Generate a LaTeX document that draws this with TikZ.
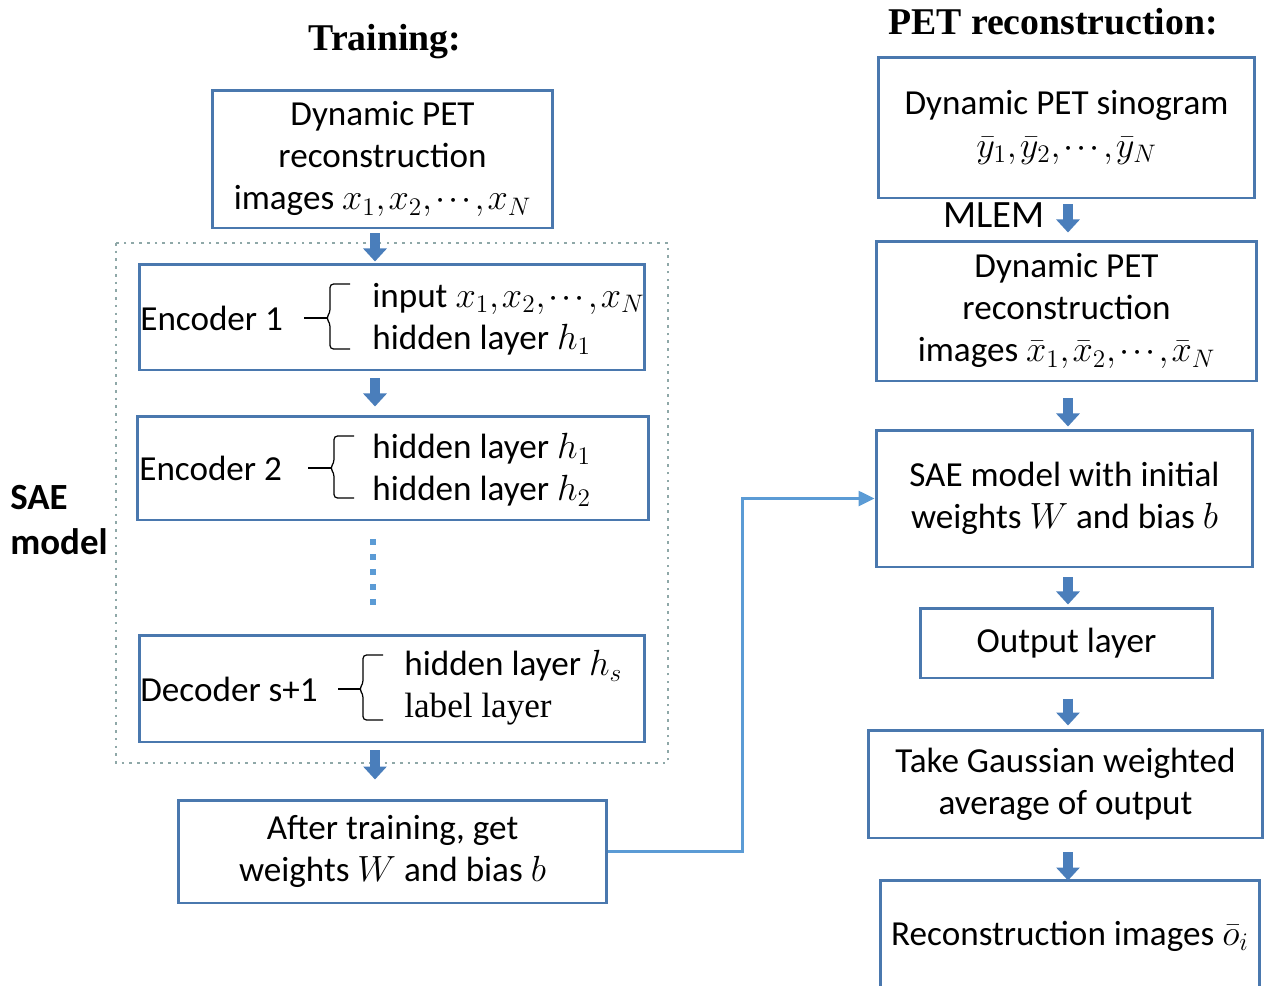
\documentclass[tikz,border=0pt]{standalone}
\usepackage{fontspec}
\setmainfont{Carlito}
\newfontfamily\titlefont{Liberation Serif}
\newfontfamily\labelfont{Liberation Serif}
\usetikzlibrary{arrows.meta,calc}
\definecolor{boxblue}{HTML}{4A78AE}
\definecolor{arrowblue}{HTML}{4A7EBB}
\definecolor{linkblue}{HTML}{5B9BD5}
\definecolor{framegray}{HTML}{8FA8A8}
\thinmuskip=1.5mu

\begin{document}
\begin{tikzpicture}[x=0.02cm,y=-0.02cm,
  box/.style={draw=boxblue,line width=1.7pt,align=center,inner sep=0pt,font=\fontsize{20}{24}\selectfont},
  txt/.style={inner sep=0pt,align=left,font=\fontsize{20}{24}\selectfont},
  fatarrow/.style={arrowblue,line width=0.2cm,-{Triangle[width=0.46cm,length=0.26cm]}},
  link/.style={linkblue,line width=1.4pt,-{Triangle[width=0.3cm,length=0.32cm]}},
  saeframe/.style={framegray,line width=1.4pt,dash pattern=on 1.5pt off 2.9pt},
  layerbrace/.style={black,line width=0.7pt,rounded corners=0.07cm},
  title/.style={inner sep=0pt,font=\titlefont\bfseries\fontsize{21.5}{26}\selectfont}]
\useasboundingbox (0,0) rectangle (1265,985);
\clip (0,0) rectangle (1265,985);

% training side
\node[title] (traintitle) at (385,42) {Training:};
\node[box,minimum width=6.82cm,minimum height=2.76cm] (petimg) at (382.5,159)
  {Dynamic PET\\reconstruction\\images $x_1,x_2,\cdots,x_N$};

\draw[saeframe] (116,243) rectangle (668,763);
\node[txt,font=\bfseries\fontsize{21}{26}\selectfont] (saelabel) at (10,520) [anchor=west] {SAE\\model};

\node[box,minimum width=10.12cm,minimum height=2.12cm] (enc1) at (392,317) {};
\node[txt,anchor=west] (enc1name) at (140,318) {Encoder 1};
\node[txt,anchor=west] (enc1layers) at (372,319) {input $x_1,x_2,\cdots,x_N$\\hidden layer $h_1$};
\draw[layerbrace] (304,318) -- (327,318);
\draw[layerbrace] (350,284) -- (330,284) -- (330,313) -- (326,318) -- (330,323) -- (330,349) -- (350,349);

\node[box,minimum width=10.24cm,minimum height=2.08cm] (enc2) at (393,468) {};
\node[txt,anchor=west] (enc2name) at (139,468) {Encoder 2};
\node[txt,anchor=west] (enc2layers) at (372,470) {hidden layer $h_1$\\hidden layer $h_2$};
\draw[layerbrace] (308,468) -- (331,468);
\draw[layerbrace] (354,436) -- (334,436) -- (334,463) -- (330,468) -- (334,473) -- (334,498) -- (354,498);

\foreach \y in {542,557,572,587,602}
  \fill[linkblue] (370,\y-3) rectangle (376,\y+3);

\node[box,minimum width=10.12cm,minimum height=2.14cm] (dec) at (392,688.5) {};
\node[txt,anchor=west] (decname) at (140,689) {Decoder s+1};
\node[txt,anchor=west] (declayers) at (404,688) {hidden layer $h_s$\\{\labelfont label layer}};
\draw[layerbrace] (338,689) -- (360,689);
\draw[layerbrace] (383,655) -- (363,655) -- (363,684) -- (359,689) -- (363,694) -- (363,720) -- (383,720);

\node[box,minimum width=8.58cm,minimum height=2.06cm] (after) at (392.5,851.5)
  {After training, get\\weights $W$ and bias $b$};

\draw[fatarrow] ($(petimg.south)+(-7.5,4)$) -- ++(0,28);
\draw[fatarrow] ($(enc1.south)+(-17,7)$) -- ++(0,28);
\draw[fatarrow] ($(dec.south)+(-17,7)$) -- ++(0,29);

% reconstruction side
\node[title] (recontitle) at (1053,22) {PET reconstruction:};
\node[box,minimum width=7.54cm,minimum height=2.82cm] (sino) at (1066.5,127.5)
  {Dynamic PET sinogram\\$\bar{y}_1,\bar{y}_2,\cdots,\bar{y}_N$};
\node[box,minimum width=7.62cm,minimum height=2.8cm] (mlemimg) at (1066.5,311)
  {Dynamic PET\\reconstruction\\images $\bar{x}_1,\bar{x}_2,\cdots,\bar{x}_N$};
\node[box,minimum width=7.54cm,minimum height=2.74cm] (saeinit) at (1064.5,498.5)
  {SAE model with initial\\weights $W$ and bias $b$};
\node[box,minimum width=5.86cm,minimum height=1.4cm] (outlayer) at (1066.5,643) {Output layer};
\node[box,minimum width=7.9cm,minimum height=2.16cm] (gauss) at (1065.5,784)
  {Take Gaussian weighted\\average of output};
\node[box,minimum width=7.6cm,minimum height=2.24cm] (recon) at (1070,936)
  {Reconstruction images $\bar{o}_i$};

\node[txt,font=\fontsize{22}{26}\selectfont] (mlem) at (994,215) {MLEM};
\draw[fatarrow] ($(sino.south)+(1.5,5)$) -- ++(0,28);
\draw[fatarrow] ($(mlemimg.south)+(1.5,16)$) -- ++(0,28);
\draw[fatarrow] ($(saeinit.south)+(3.5,9)$) -- ++(0,27);
\draw[fatarrow] ($(outlayer.south)+(1.5,19)$) -- ++(0,27);
\draw[fatarrow] ($(gauss.south)+(2.5,13)$) -- ++(0,28);

\draw[link] (after.east) -- ++(134,0) |- (saeinit.west);
\end{tikzpicture}
\end{document}
